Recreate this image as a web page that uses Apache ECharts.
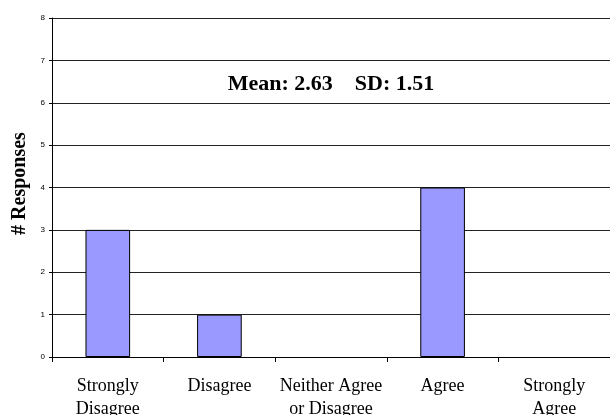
<!DOCTYPE html>
<html>
<head>
<meta charset="utf-8">
<script src="https://cdn.jsdelivr.net/npm/echarts@6/dist/echarts.min.js"></script>
<style>
  html, body { margin: 0; padding: 0; background: #fff; }
  #chart { width: 610px; height: 415px; }
</style>
</head>
<body>
<div id="chart"></div>
<script>
// Likert response categories and their counts
const categories = ['Strongly\nDisagree', 'Disagree', 'Neither Agree\nor Disagree', 'Agree', 'Strongly\nAgree'];
const responses = [3, 1, 0, 4, 0];
const yTicks = [0, 1, 2, 3, 4, 5, 6, 7, 8];
const summaryText = 'Mean: 2.63    SD: 1.51';

const chart = echarts.init(document.getElementById('chart'), null, { renderer: 'canvas' });

const gridLeft = 52, gridRight = 0, gridTop = 18, gridBottom = 58;
const serif = '"Liberation Serif", "Times New Roman", serif';

// empty categories get no outline so nothing shows at the baseline
const barData = responses.map(v => ({
  value: v,
  itemStyle: v === 0 ? { borderWidth: 0 } : undefined
}));

chart.setOption({
  animation: false,
  backgroundColor: '#ffffff',
  grid: {
    left: gridLeft, right: gridRight, top: gridTop, bottom: gridBottom,
    containLabel: false, outerBoundsMode: 'none'
  },
  xAxis: {
    type: 'category',
    data: categories,
    axisLine: { show: true, lineStyle: { color: '#000', width: 1 } },
    axisTick: { show: true, alignWithLabel: false, length: 5, lineStyle: { color: '#000' } },
    axisLabel: {
      color: '#000',
      fontFamily: serif,
      fontSize: 18,
      lineHeight: 23,
      margin: 18,
      interval: 0
    },
    splitLine: { show: false }
  },
  yAxis: {
    type: 'value',
    min: yTicks[0],
    max: yTicks[yTicks.length - 1],
    interval: 1,
    name: '# Responses',
    nameLocation: 'middle',
    nameGap: 14,
    nameTextStyle: {
      color: '#000',
      fontFamily: serif,
      fontWeight: 'bold',
      fontSize: 20,
      padding: [0, 0, 0, 8]
    },
    axisLine: { show: true, lineStyle: { color: '#000', width: 1 } },
    axisTick: { show: true, length: 3, lineStyle: { color: '#000' } },
    axisLabel: {
      color: '#000',
      fontFamily: '"Liberation Sans", Arial, sans-serif',
      fontSize: 8,
      margin: 7
    },
    splitLine: { show: true, lineStyle: { color: '#222', width: 1 } }
  },
  series: [{
    type: 'bar',
    data: barData,
    barWidth: '40%',
    itemStyle: { color: '#9999ff', borderColor: '#000', borderWidth: 1 }
  }],
  graphic: [{
    type: 'text',
    x: gridLeft + (610 - gridLeft - gridRight) / 2,
    y: 84,
    style: {
      text: summaryText,
      fill: '#000',
      font: 'bold 22px ' + serif,
      textAlign: 'center',
      textVerticalAlign: 'middle'
    }
  }]
});
</script>
</body>
</html>
